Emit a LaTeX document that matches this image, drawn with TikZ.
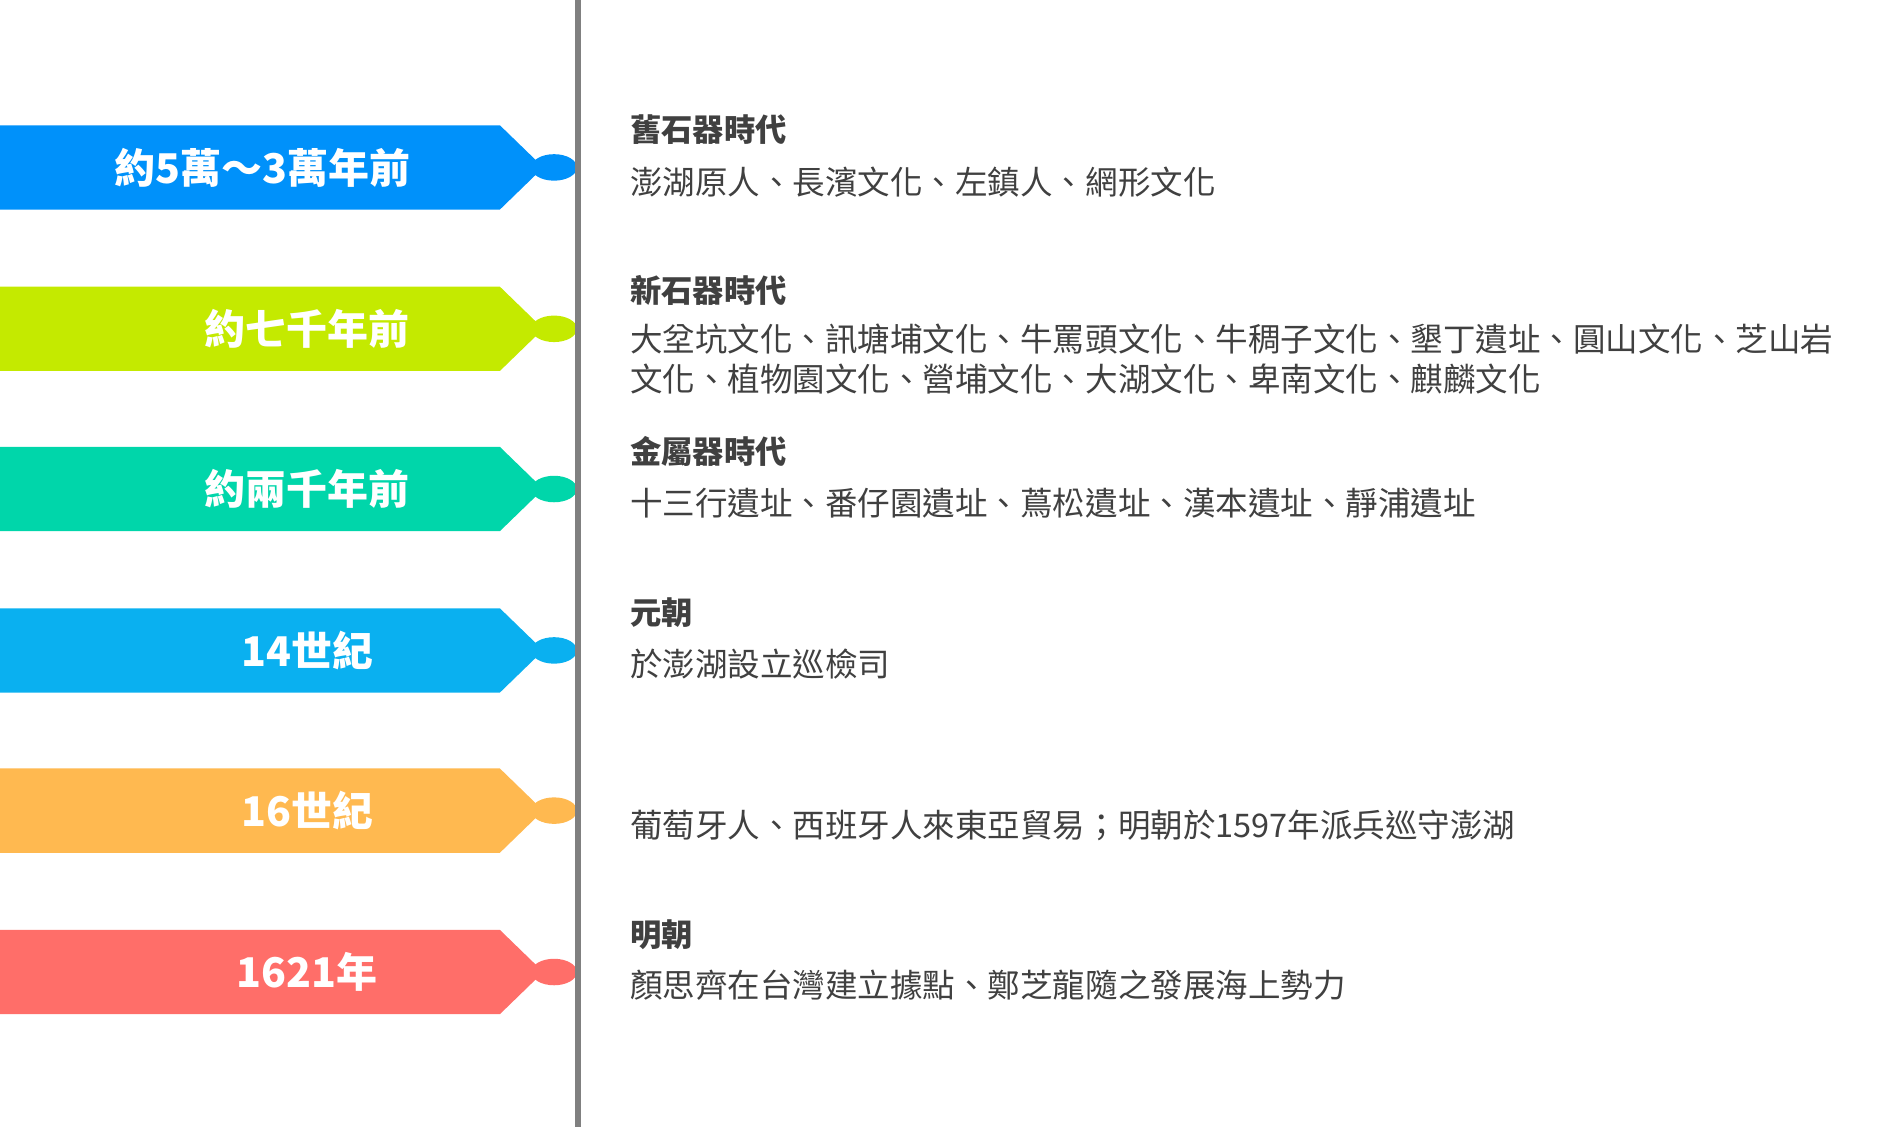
\documentclass[tikz,border=0pt]{standalone}
\usepackage{fontspec}
\newfontfamily\cjk{Noto Sans CJK TC}
\begin{document}
\begin{tikzpicture}[x=1pt,y=-1pt,
  tagtext/.style={font=\cjk\bfseries\fontsize{34}{34}\selectfont,text=white,anchor=center},
  ttl/.style={font=\cjk\bfseries\fontsize{26}{26}\selectfont,text=black!75,anchor=west,inner sep=0},
  bdy/.style={font=\cjk\fontsize{27}{33}\selectfont,text=black!75,anchor=west,align=left,inner sep=0}]
\useasboundingbox (0,0) rectangle (1560,936);
\definecolor{c1}{RGB}{0,145,250}
\definecolor{c2}{RGB}{196,234,0}
\definecolor{c3}{RGB}{0,214,170}
\definecolor{c4}{RGB}{10,176,240}
\definecolor{c5}{RGB}{255,185,80}
\definecolor{c6}{RGB}{255,110,105}
\coordinate (top) at (480,0);
\coordinate (bot) at (480,936);
\foreach \y/\c/\t/\tx [count=\i] in {139/c1/{約5萬～3萬年前}/218, 273/c2/{約七千年前}/255, 406/c3/{約兩千年前}/255, 540/c4/{14世紀}/255, 673/c5/{16世紀}/255, 807/c6/{1621年}/255}{
  \fill[\c] (0,\y-35) -- (415,\y-35) -- (448,\y-3) -- (448,\y+3) -- (415,\y+35) -- (0,\y+35) -- cycle;
  \fill[\c] (460,\y) ellipse (19 and 11);
  \node[tagtext] (tag\i) at (\tx,\y) {\t};
}
\draw[line width=5pt,black!50] (top) -- (bot);
\node[ttl] (t1) at (523,108) {舊石器時代};
\node[bdy] (b1) at (523,151) {澎湖原人、長濱文化、左鎮人、網形文化};
\node[ttl] (t2) at (523,241) {新石器時代};
\node[bdy,anchor=north west] (b2) at (523,269) {大坌坑文化、訊塘埔文化、牛罵頭文化、牛稠子文化、墾丁遺址、圓山文化、芝山岩\\文化、植物園文化、營埔文化、大湖文化、卑南文化、麒麟文化};
\node[ttl] (t3) at (523,375) {金屬器時代};
\node[bdy] (b3) at (523,418) {十三行遺址、番仔園遺址、蔦松遺址、漢本遺址、靜浦遺址};
\node[ttl] (t4) at (523,509) {元朝};
\node[bdy] (b4) at (523,551) {於澎湖設立巡檢司};
\node[bdy] (b5) at (523,685) {葡萄牙人、西班牙人來東亞貿易；明朝於1597年派兵巡守澎湖};
\node[ttl] (t6) at (523,776) {明朝};
\node[bdy] (b6) at (523,818) {顏思齊在台灣建立據點、鄭芝龍隨之發展海上勢力};
\end{tikzpicture}
\end{document}
